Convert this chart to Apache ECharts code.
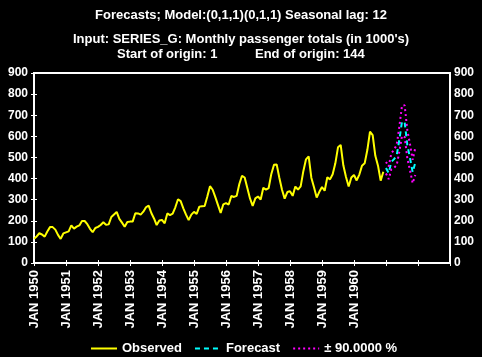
<!DOCTYPE html>
<html>
<head>
<meta charset="utf-8">
<script src="https://cdn.jsdelivr.net/npm/echarts@6/dist/echarts.min.js"></script>
<style>
html,body{margin:0;padding:0;background:#000;}
#c{width:482px;height:357px;}
</style>
</head>
<body>
<div id="c"></div>
<script>
// Observed monthly passenger totals (1000's), JAN 1950 .. DEC 1960
const observed = [
  115,126,141,135,125,149,170,170,158,133,114,140,
  145,150,178,163,172,178,199,199,184,162,146,166,
  171,180,193,181,183,218,230,242,209,191,172,194,
  196,196,236,235,229,243,264,272,237,211,180,201,
  204,188,235,227,234,264,302,293,259,229,203,229,
  242,233,267,269,270,315,364,347,312,274,237,278,
  284,277,317,313,318,374,413,405,355,306,271,306,
  315,301,356,348,355,422,465,467,404,347,305,336,
  340,318,362,348,363,435,491,505,404,359,310,337,
  360,342,406,396,420,472,548,559,463,407,362,405,
  417,391,419,461,472,535,622,606,508,461,390,432
];
// Forecasts for the next 12 months
const forecast = [450,426,479,492,509,583,670,667,558,497,430,477];
// +/- 90% limits
const upper = [479,457,519,537,559,645,746,747,629,563,489,546];
const lower = [424,397,443,451,463,527,602,596,496,439,378,417];
const yTicks = [0,100,200,300,400,500,600,700,800,900];
const xTickLabels = ['JAN 1950','JAN 1951','JAN 1952','JAN 1953','JAN 1954','JAN 1955',
  'JAN 1956','JAN 1957','JAN 1958','JAN 1959','JAN 1960','',''];

const n = observed.length;
const obsData = observed.map((v,i)=>[i,v]);
const fcData = forecast.map((v,i)=>[n+i,v]);
const upData = upper.map((v,i)=>[n+i,v]);
const loData = lower.map((v,i)=>[n+i,v]);

const FONT = 'Liberation Sans';
const txt = {color:'#fff', fontFamily:FONT, fontWeight:'bold', fontSize:12};
const tfont = 'bold 13px ' + FONT;

const chart = echarts.init(document.getElementById('c'));
chart.setOption({
  backgroundColor:'#000',
  animation:false,
  graphic:[
    {type:'text', left:'center', top:9, style:{text:'Forecasts; Model:(0,1,1)(0,1,1) Seasonal lag: 12', fill:'#fff', font:tfont}},
    {type:'text', left:'center', top:33, style:{text:"Input: SERIES_G: Monthly passenger totals (in 1000's)", fill:'#fff', font:tfont}},
    {type:'text', x:117, y:48, style:{text:'Start of origin: 1', fill:'#fff', font:tfont}},
    {type:'text', x:255, y:48, style:{text:'End of origin: 144', fill:'#fff', font:tfont}}
  ],
  legend:{
    top:337, left:85, itemWidth:26, itemHeight:12, itemGap:12,
    textStyle:Object.assign({}, txt, {fontSize:13}),
    itemStyle:{opacity:0},
    data:['Observed','Forecast','± 90.0000 %']
  },
  grid:{left:34, right:32, top:73, bottom:94, show:true, borderColor:'#fff', borderWidth:2, backgroundColor:'#000'},
  xAxis:[{
    type:'value', min:0, max:156, interval:12,
    axisLine:{show:true, lineStyle:{color:'#fff', width:2}},
    axisTick:{show:true, inside:true, length:3, lineStyle:{color:'#fff'}},
    splitLine:{show:false},
    axisLabel:Object.assign({rotate:90, margin:7, formatter:(v)=>xTickLabels[Math.round(v/12)]||''}, txt, {fontSize:13})
  },{
    type:'value', position:'top', min:0, max:156, interval:12,
    axisLine:{show:true, lineStyle:{color:'#fff', width:2}},
    axisTick:{show:true, inside:true, length:3, lineStyle:{color:'#fff'}},
    splitLine:{show:false}, axisLabel:{show:false}
  }],
  yAxis:[{
    type:'value', min:0, max:900, interval:100,
    axisLine:{show:true, lineStyle:{color:'#fff', width:2}},
    axisTick:{show:true, inside:true, length:3, lineStyle:{color:'#fff'}},
    splitLine:{show:false},
    axisLabel:Object.assign({margin:6, formatter:(v)=>yTicks.includes(v)?String(v):''}, txt)
  },{
    type:'value', position:'right', min:0, max:900, interval:100,
    axisLine:{show:true, lineStyle:{color:'#fff', width:2}},
    axisTick:{show:true, inside:true, length:3, lineStyle:{color:'#fff'}},
    splitLine:{show:false},
    axisLabel:Object.assign({margin:4, formatter:(v)=>yTicks.includes(v)?String(v):''}, txt)
  }],
  series:[
    {name:'Observed', type:'line', data:obsData, symbol:'none', lineStyle:{color:'#ffff00', width:2}, itemStyle:{color:'#ffff00'}},
    {name:'Forecast', type:'line', data:fcData, symbol:'none', lineStyle:{color:'#00ffff', width:2, type:[5,4]}, itemStyle:{color:'#00ffff'}},
    {name:'± 90.0000 %', type:'line', data:upData, symbol:'none', lineStyle:{color:'#ff00ff', width:2, type:[2,3]}, itemStyle:{color:'#ff00ff'}},
    {name:'± 90.0000 %', type:'line', data:loData, symbol:'none', lineStyle:{color:'#ff00ff', width:2, type:[2,3]}, itemStyle:{color:'#ff00ff'}}
  ]
});
</script>
</body>
</html>
